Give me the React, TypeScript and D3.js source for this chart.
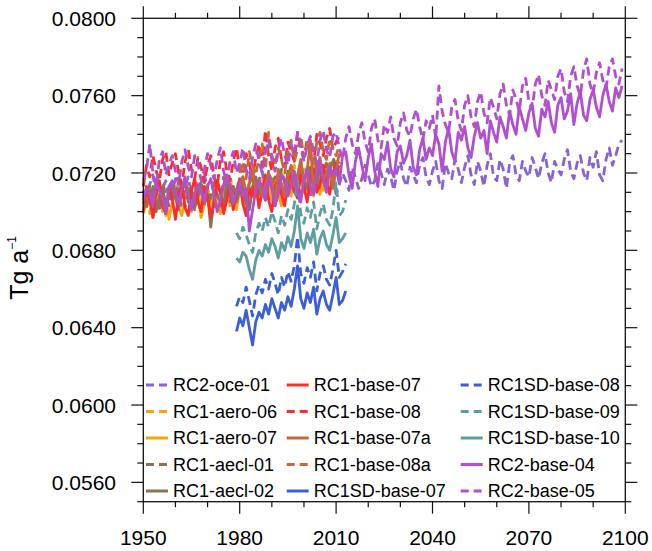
import * as d3 from "d3";

// values in units of 1e-4 Tg a^-1
const rc2Years = d3.range(1950, 2100);
const rc1Years = d3.range(1950, 2012);
const rc1aYears = d3.range(1980, 2012);
const rc1sdYears = d3.range(1979, 2014);

const rc2Oce01 = [
  711, 704, 714, 719, 708, 702, 712, 716, 706, 710,
  717, 709, 703, 713, 718, 707, 711, 704, 715, 720,
  710, 705, 714, 709, 701, 712, 717, 708, 713, 706,
  712, 718, 707, 703, 714, 710, 716, 721, 709, 713,
  706, 715, 719, 711, 708, 716, 712, 720, 714, 709,
  717, 713, 707, 718, 722, 712, 715, 710, 719, 716,
  709, 714, 720, 716, 711, 723, 718, 712, 717, 724,
  719, 713, 716, 725, 720, 714, 722, 718, 711, 721,
  726, 717, 713, 723, 719, 715, 724, 728, 718, 714,
  721, 726, 716, 712, 725, 720, 717, 727, 722, 715,
  723, 729, 719, 714, 726, 721, 713, 724, 730, 718,
  716, 727, 722, 712, 725, 729, 719, 716, 726, 721,
  718, 728, 723, 717, 725, 730, 720, 715, 726, 722,
  719, 727, 732, 721, 717, 725, 729, 720, 716, 728,
  723, 731, 719, 716, 727, 733, 724, 729, 735, 737,
];

const rc1Aero06 = [
  704, 713, 699, 708, 716, 703, 710, 698, 712, 707,
  715, 702, 709, 718, 706, 700, 711, 716, 705, 709,
  714, 701, 707, 717, 710, 704, 713, 719, 706, 711,
  716, 708, 703, 714, 720, 709, 705, 717, 712, 707,
  718, 713, 706, 721, 715, 710, 719, 724, 712, 716,
  722, 711, 717, 725, 714, 709, 720, 726, 716, 721,
  727, 719,
];

const rc1Aero07 = [
  699, 706, 711, 697, 703, 712, 700, 707, 696, 705,
  711, 702, 698, 708, 713, 701, 706, 710, 697, 704,
  709, 700, 712, 705, 699, 710, 715, 703, 708, 701,
  711, 706, 700, 713, 709, 716, 704, 712, 707, 714,
  706, 715, 710, 703, 717, 712, 708, 719, 713, 716,
  710, 718, 714, 708, 720, 715, 711, 721, 717, 713,
  722, 718,
];

const rc1Aecl01 = [
  709, 702, 714, 707, 711, 700, 715, 708, 703, 712,
  706, 717, 710, 702, 713, 708, 701, 711, 716, 704,
  712, 707, 715, 709, 703, 718, 710, 705, 713, 708,
  715, 711, 704, 714, 719, 709, 716, 712, 706, 721,
  713, 718, 709, 722, 715, 711, 724, 717, 712, 720,
  716, 723, 719, 713, 726, 720, 716, 725, 721, 728,
  723, 726,
];

const rc1Aecl02 = [
  704, 710, 706, 713, 700, 708, 712, 704, 709, 714,
  707, 701, 711, 715, 705, 710, 702, 708, 713, 704,
  709, 692, 706, 714, 710, 702, 716, 708, 712, 705,
  711, 715, 707, 701, 713, 718, 709, 714, 706, 717,
  712, 707, 719, 714, 709, 721, 715, 710, 718, 722,
  716, 712, 723, 718, 713, 725, 719, 714, 722, 726,
  720, 724,
];

const rc1Base07 = [
  700, 713, 706, 697, 710, 716, 703, 699, 712, 707,
  696, 709, 715, 702, 698, 711, 717, 705, 700, 713,
  708, 697, 704, 716, 710, 699, 706, 714, 701, 711,
  717, 704, 698, 712, 708, 715, 702, 710, 719, 706,
  700, 713, 718, 709, 703, 716, 721, 711, 707, 719,
  713, 705, 717, 722, 710, 714, 724, 716, 709, 720,
  725, 718,
];

const rc1Base08 = [
  713, 724, 718, 729, 721, 716, 727, 731, 719, 725,
  730, 720, 714, 726, 732, 722, 717, 728, 723, 715,
  724, 729, 718, 713, 727, 731, 721, 716, 726, 733,
  722, 719, 730, 725, 717, 728, 735, 724, 742, 729,
  721, 733, 738, 727, 723, 736, 731, 726, 741, 734,
  728, 737, 731, 725, 740, 735, 729, 738, 743, 732,
  736, 739,
];

const rc1Base07a = [
  712, 718, 709, 715, 721, 711, 717, 708, 714, 720,
  716, 704, 722, 714, 708, 718, 724, 713, 719, 727,
  715, 721, 737, 709, 723, 728, 716, 720, 725, 712,
  722, 730,
];

const rc1Base08a = [
  720, 726, 717, 731, 724, 719, 728, 735, 722, 741,
  729, 724, 733, 727, 720, 731, 737, 726, 732, 739,
  728, 735, 730, 724, 736, 741, 731, 727, 738, 733,
  729, 734,
];

const rc1sdBase07 = [
  638, 645, 641, 649, 640, 631, 643, 648, 645, 652,
  647, 655, 650, 645, 653, 649, 656, 651, 660, 672,
  655, 650, 658, 653, 661, 647, 655, 659, 652, 649,
  657, 666, 652, 654, 659,
];

const rc1sdBase08 = [
  651, 656, 653, 661, 654, 646, 657, 662, 658, 665,
  660, 668, 663, 657, 666, 661, 669, 664, 672, 687,
  668, 663, 671, 666, 674, 659, 668, 672, 665, 662,
  670, 680, 666, 669, 673,
];

const rc1sdBase09 = [
  689, 686, 692, 688, 683, 679, 689, 694, 690, 697,
  692, 700, 695, 689, 698, 693, 701, 696, 704, 716,
  699, 694, 702, 697, 705, 691, 699, 704, 696, 693,
  701, 715, 698, 700, 706,
];

const rc1sdBase10 = [
  676, 674, 679, 677, 670, 665, 675, 680, 677, 683,
  679, 686, 682, 676, 684, 680, 687, 682, 690, 703,
  686, 681, 689, 684, 691, 678, 686, 690, 683, 680,
  688, 697, 684, 686, 689,
];

const rc2Base04 = [
  706, 712, 709, 703, 715, 711, 707, 699, 713, 716,
  710, 704, 712, 718, 708, 701, 709, 714, 711, 705,
  713, 717, 709, 700, 706, 714, 719, 712, 704, 710,
  715, 708, 712, 690, 701, 711, 716, 713, 706, 718,
  712, 703, 709, 719, 716, 708, 714, 721, 710, 705,
  717, 722, 713, 709, 720, 726, 716, 711, 723, 719,
  722, 715, 729, 731, 719, 712, 726, 733, 724, 716,
  728, 735, 721, 713, 730, 727, 736, 722, 718, 731,
  734, 725, 729, 737, 723, 719, 732, 738, 727, 733,
  729, 740, 735, 721, 736, 743, 731, 726, 741, 737,
  744, 733, 728, 739, 746, 738, 742, 730, 747, 741,
  736, 749, 744, 738, 752, 745, 740, 754, 748, 742,
  751, 756, 743, 739, 753, 749, 757, 746, 741, 755,
  759, 748, 752, 761, 745, 756, 762, 750, 747, 758,
  763, 754, 749, 760, 766, 757, 752, 764, 759, 765,
];

const rc2Base05 = [
  716, 722, 735, 720, 713, 727, 731, 719, 724, 729,
  721, 714, 726, 732, 723, 718, 729, 725, 716, 722,
  730, 724, 717, 727, 733, 721, 715, 726, 731, 720,
  725, 733, 722, 717, 728, 735, 726, 720, 731, 737,
  727, 721, 732, 738, 729, 724, 735, 730, 741, 733,
  726, 734, 739, 731, 725, 737, 742, 732, 728, 739,
  741, 733, 727, 738, 744, 735, 730, 740, 746, 736,
  731, 743, 748, 737, 733, 745, 741, 749, 738, 734,
  746, 751, 742, 739, 748, 753, 744, 737, 747, 743,
  750, 738, 765, 752, 745, 741, 754, 758, 747, 742,
  755, 760, 749, 744, 757, 762, 751, 746, 759, 754,
  748, 761, 766, 755, 750, 763, 758, 752, 765, 769,
  757, 753, 766, 771, 760, 755, 768, 763, 758, 770,
  774, 762, 757, 770, 775, 765, 760, 773, 779, 766,
  761, 772, 777, 768, 764, 775, 779, 770, 766, 774,
];

const seriesNames = [
  "RC2-oce-01", "RC1-aero-06", "RC1-aero-07", "RC1-aecl-01", "RC1-aecl-02",
  "RC1-base-07", "RC1-base-08", "RC1-base-07a", "RC1-base-08a", "RC1SD-base-07",
  "RC1SD-base-08", "RC1SD-base-09", "RC1SD-base-10", "RC2-base-04", "RC2-base-05",
];
const seriesValues = [
  rc2Oce01, rc1Aero06, rc1Aero07, rc1Aecl01, rc1Aecl02,
  rc1Base07, rc1Base08, rc1Base07a, rc1Base08a, rc1sdBase07,
  rc1sdBase08, rc1sdBase09, rc1sdBase10, rc2Base04, rc2Base05,
];
const seriesYears = [
  rc2Years, rc1Years, rc1Years, rc1Years, rc1Years,
  rc1Years, rc1Years, rc1aYears, rc1aYears, rc1sdYears,
  rc1sdYears, rc1sdYears, rc1sdYears, rc2Years, rc2Years,
];
const seriesColors = [
  "#8a63d2", "#ffa500", "#ffa500", "#8b7355", "#8b7355",
  "#ff2a2a", "#ff2a2a", "#c8683a", "#c8683a", "#3a5fd6",
  "#3a5fd6", "#5f9ea0", "#5f9ea0", "#b24fd0", "#b24fd0",
];
const seriesDashed = [
  true, true, false, true, false,
  false, true, false, true, false,
  true, true, false, false, true,
];

const xTickLabels = [1950, 1980, 2010, 2040, 2070, 2100];
const yTickLabels = ["0.0560", "0.0600", "0.0640", "0.0680", "0.0720", "0.0760", "0.0800"];

export default function App() {
  const width = 652;
  const height = 551;
  const left = 143.3;
  const right = 625.3;
  const top = 18.3;
  const bottom = 501.7;
  const font = "'Liberation Sans', Arial, Helvetica, sans-serif";
  const dash = "9,5";

  const x = d3.scaleLinear().domain([1950, 2100]).range([left, right]);
  const y = d3.scaleLinear().domain([0.055, 0.08]).range([bottom, top]);

  const line = d3
    .line<[number, number]>()
    .x((d) => x(d[0]))
    .y((d) => y(d[1] / 10000));

  const xMinor = d3.range(1950, 2101, 10);
  const yMinor = d3.range(55, 80.5, 1).map((v) => v / 1000);
  const yMajor = yTickLabels.map(Number);

  const legendRow0 = 385;
  const legendRowStep = 26.5;
  const legendCols = [146, 286.7, 460.7];

  return (
    <svg
      width={width}
      height={height}
      style={{ position: "absolute", left: 0, top: 0, background: "#fff" }}
    >
      <rect width={width} height={height} fill="#fff" />
      {seriesValues.map((vals, i) => (
        <path
          key={seriesNames[i]}
          d={line(vals.map((v, j) => [seriesYears[i][j], v])) || ""}
          fill="none"
          stroke={seriesColors[i]}
          strokeWidth={2.8}
          strokeLinejoin="round"
          strokeDasharray={seriesDashed[i] ? dash : undefined}
        />
      ))}

      {/* frame */}
      <rect
        x={left}
        y={top}
        width={right - left}
        height={bottom - top}
        fill="none"
        stroke="#111"
        strokeWidth={1.3}
      />

      {/* x ticks, bottom and top, outward */}
      {xMinor.map((yr) => {
        const major = (yr - 1950) % 30 === 0;
        const len = major ? 12 : 5.5;
        return (
          <g key={"xt" + yr} stroke="#111" strokeWidth={1.2}>
            <line x1={x(yr)} x2={x(yr)} y1={bottom} y2={bottom + len} />
            <line x1={x(yr)} x2={x(yr)} y1={top} y2={top - len} />
          </g>
        );
      })}
      {xTickLabels.map((yr) => (
        <text
          key={"xl" + yr}
          x={x(yr)}
          y={545}
          textAnchor="middle"
          fontFamily={font}
          fontSize={21}
          fill="#000"
        >
          {yr}
        </text>
      ))}

      {/* y ticks, left and right, outward */}
      {yMinor.map((v) => {
        const major = yMajor.some((m) => Math.abs(m - v) < 1e-7);
        const len = major ? 12 : 6;
        return (
          <g key={"yt" + v} stroke="#111" strokeWidth={1.2}>
            <line x1={left} x2={left - len} y1={y(v)} y2={y(v)} />
            <line x1={right} x2={right + len} y1={y(v)} y2={y(v)} />
          </g>
        );
      })}
      {yTickLabels.map((lab) => (
        <text
          key={"yl" + lab}
          x={116}
          y={y(Number(lab))}
          dy="0.36em"
          textAnchor="end"
          fontFamily={font}
          fontSize={21}
          fill="#000"
        >
          {lab}
        </text>
      ))}

      {/* y axis title */}
      <text
        transform={`translate(28, 268) rotate(-90)`}
        textAnchor="middle"
        fontFamily={font}
        fontSize={25}
        fill="#000"
      >
        Tg a
        <tspan fontSize={12} dy={-12}>
          −1
        </tspan>
      </text>

      {/* legend */}
      {seriesNames.map((name, i) => {
        const col = Math.floor(i / 5);
        const row = i % 5;
        const lx = legendCols[col];
        const ly = legendRow0 + row * legendRowStep;
        return (
          <g key={"lg" + name}>
            <line
              x1={lx}
              x2={lx + 22}
              y1={ly}
              y2={ly}
              stroke={seriesColors[i]}
              strokeWidth={3}
              strokeDasharray={seriesDashed[i] ? "8,5" : undefined}
            />
            <text
              x={lx + 27}
              y={ly + 6.3}
              fontFamily={font}
              fontSize={18}
              fill="#000"
            >
              {name}
            </text>
          </g>
        );
      })}
    </svg>
  );
}
